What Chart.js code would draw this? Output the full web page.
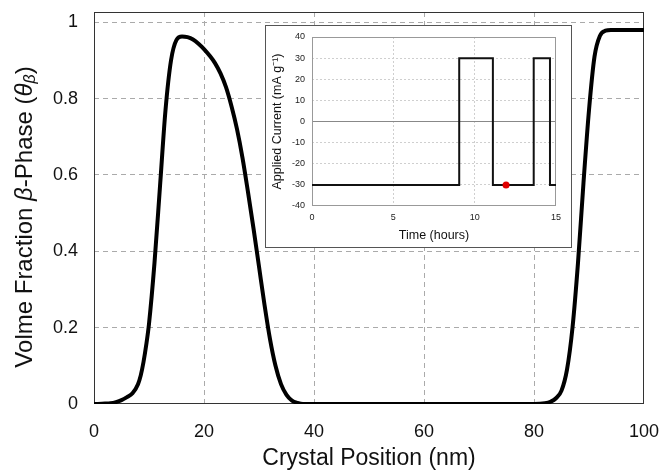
<!DOCTYPE html>
<html>
<head>
<meta charset="utf-8">
<script src="https://cdn.jsdelivr.net/npm/chart.js@4/dist/chart.umd.min.js"></script>
<style>
    body { margin: 0; background: #fff; }
    #wrap { position: relative; width: 661px; height: 472px; }
    #main { position: absolute; left: 0; top: 0; }
    #insetBox { position: absolute; left: 265px; top: 25px; width: 305px; height: 221px; border: 1px solid #555; background: #fff; }
</style>
</head>
<body>
<div id="wrap">
    <canvas id="main" width="661" height="472"></canvas>
    <div id="insetBox"><canvas id="inset" width="305" height="221"></canvas></div>
</div>
<script>
// Main curve: volume fraction of beta phase along the crystal
const positions = [0, 2, 3, 4, 5, 6, 7, 8, 8.5, 9, 9.5, 10, 11, 12, 13, 14, 15, 16, 17, 18, 19, 20, 21, 22, 23, 24, 25, 26, 27, 28, 29, 30, 31, 32, 33, 34, 35, 36, 37, 38, 40, 50, 60, 70, 80, 82, 83, 84, 85, 86, 87, 88, 89, 90, 91, 92, 93, 94, 100];
const fractions = [0, 0.001, 0.002, 0.005, 0.01, 0.018, 0.028, 0.052, 0.075, 0.11, 0.155, 0.21, 0.37, 0.57, 0.77, 0.9, 0.954, 0.963, 0.961, 0.955, 0.944, 0.93, 0.913, 0.893, 0.866, 0.83, 0.78, 0.72, 0.645, 0.555, 0.46, 0.36, 0.26, 0.17, 0.1, 0.052, 0.024, 0.009, 0.003, 0, 0, 0, 0, 0, 0, 0.002, 0.006, 0.015, 0.035, 0.09, 0.2, 0.37, 0.58, 0.77, 0.91, 0.965, 0.978, 0.98, 0.98];
const xTicks = [0, 20, 40, 60, 80, 100];
const yTicks = [0, 0.2, 0.4, 0.6, 0.8, 1];

// Inset: applied current steps
const times = [0, 9.05, 11.12, 13.63, 14.63, 15];
const currents = [-30, 30, -30, 30, -30, -30];
const markerTime = [11.93];
const markerCurrent = [-30];
const insetXTicks = [0, 5, 10, 15];
const insetYTicks = [-40, -30, -20, -10, 0, 10, 20, 30, 40];

const FONT = '"Liberation Sans", Arial, sans-serif';

// frame around the plot area
const frame = {
    id: 'frame',
    beforeDatasetsDraw(chart, args, opts) {
        const a = chart.chartArea, ctx = chart.ctx;
        ctx.save();
        ctx.strokeStyle = opts.color;
        ctx.lineWidth = 1;
        ctx.strokeRect(Math.round(a.left) + 0.5, Math.round(a.top) + 0.5, Math.round(a.right - a.left) - 1, Math.round(a.bottom - a.top) - 1);
        ctx.restore();
    }
};

// rotated y title with italic / subscript parts
const richYTitle = {
    id: 'richYTitle',
    afterDraw(chart) {
        const ctx = chart.ctx;
        const runs = [
            { t: 'Volme Fraction ', f: '24px ' + FONT, dy: 0 },
            { t: 'β', f: 'italic 24px ' + FONT, dy: 0 },
            { t: '-Phase (', f: '24px ' + FONT, dy: 0 },
            { t: 'θ', f: 'italic 24px ' + FONT, dy: 0 },
            { t: 'β', f: 'italic 16px ' + FONT, dy: 6 },
            { t: ')', f: '24px ' + FONT, dy: 0 }
        ];
        ctx.save();
        let total = 0;
        runs.forEach(r => { ctx.font = r.f; r.w = ctx.measureText(r.t).width; total += r.w; });
        ctx.translate(25, 217);
        ctx.rotate(-Math.PI / 2);
        ctx.fillStyle = '#111';
        ctx.textBaseline = 'middle';
        let x = -total / 2;
        runs.forEach(r => { ctx.font = r.f; ctx.fillText(r.t, x, r.dy); x += r.w; });
        ctx.restore();
    }
};

const fixTicks = list => scale => { scale.ticks = list.map(v => ({ value: v })); };
// fixed scale sizes, no label overflow padding
const fitX = h => s => { s.height = h; s.paddingLeft = 0; s.paddingRight = 0; };
const fitY = w => s => { s.width = w; s.paddingTop = 0; s.paddingBottom = 0; };

new Chart(document.getElementById('main'), {
    type: 'line',
    data: {
        datasets: [{
            data: positions.map((p, i) => ({ x: p, y: fractions[i] })),
            borderColor: '#000',
            borderWidth: 4,
            pointRadius: 0,
            cubicInterpolationMode: 'monotone',
            fill: false
        }]
    },
    options: {
        responsive: false,
        animation: false,
        layout: { padding: { top: 12, right: 17, left: 0, bottom: 0 } },
        plugins: { legend: { display: false }, tooltip: { enabled: false }, frame: { color: '#333' } },
        scales: {
            x: {
                type: 'linear', min: 0, max: 100,
                afterBuildTicks: fixTicks(xTicks),
                afterFit: fitX(68),
                grid: { color: c => (c.tick && (c.tick.value === 0 || c.tick.value === 100)) ? 'rgba(0,0,0,0)' : '#aaa', drawTicks: false, lineWidth: 1 },
                border: { display: false, dash: [5, 4] },
                ticks: { color: '#111', font: { family: FONT, size: 18 }, padding: 17, maxRotation: 0 },
                title: { display: true, text: 'Crystal Position (nm)', color: '#111', font: { family: FONT, size: 23 }, padding: { top: 0, bottom: 0 } }
            },
            y: {
                type: 'linear', min: 0, max: 1.027,
                afterBuildTicks: fixTicks(yTicks),
                afterFit: fitY(94),
                grid: { color: c => (c.tick && c.tick.value === 0) ? 'rgba(0,0,0,0)' : '#aaa', drawTicks: false, lineWidth: 1 },
                border: { display: false, dash: [5, 4] },
                ticks: { color: '#111', font: { family: FONT, size: 18 }, padding: 16, callback: v => String(Math.round(v * 10) / 10) }
            }
        }
    },
    plugins: [frame, richYTitle]
});

new Chart(document.getElementById('inset'), {
    type: 'line',
    data: {
        datasets: [{
            data: markerTime.map((t, i) => ({ x: t, y: markerCurrent[i] })),
            showLine: false,
            pointRadius: 3.5,
            pointBackgroundColor: '#e00000',
            pointBorderWidth: 0,
            order: 0
        }, {
            data: times.map((t, i) => ({ x: t, y: currents[i] })),
            borderColor: '#111',
            borderWidth: 2,
            pointRadius: 0,
            stepped: true,
            fill: false,
            order: 1
        }]
    },
    options: {
        responsive: false,
        animation: false,
        layout: { padding: { top: 11, right: 15, left: 0, bottom: 0 } },
        plugins: { legend: { display: false }, tooltip: { enabled: false }, frame: { color: '#999' } },
        scales: {
            x: {
                type: 'linear', min: 0, max: 15,
                afterBuildTicks: fixTicks(insetXTicks),
                afterFit: fitX(41),
                grid: { color: c => (c.tick && (c.tick.value === 0 || c.tick.value === 15)) ? 'rgba(0,0,0,0)' : '#cfcfcf', drawTicks: false },
                border: { display: false, dash: [2, 2] },
                ticks: { color: '#222', font: { family: FONT, size: 9 }, padding: 6, maxRotation: 0 },
                title: { display: true, text: 'Time (hours)', color: '#111', font: { family: FONT, size: 12.5 }, padding: { top: 0, bottom: 4 } }
            },
            y: {
                type: 'linear', min: -40, max: 40,
                afterBuildTicks: fixTicks(insetYTicks),
                afterFit: fitY(46),
                grid: {
                    color: c => {
                        if (!c.tick) return '#cfcfcf';
                        if (c.tick.value === -40 || c.tick.value === 40) return 'rgba(0,0,0,0)';
                        return c.tick.value === 0 ? '#888' : '#cfcfcf';
                    },
                    drawTicks: false
                },
                border: { display: false, dash: c => (c.tick && c.tick.value === 0) ? [] : [2, 2] },
                ticks: { color: '#222', font: { family: FONT, size: 9 }, padding: 7 },
                title: { display: true, text: 'Applied Current (mA g⁻¹)', color: '#111', font: { family: FONT, size: 12.5 }, padding: { top: 4, bottom: 0 } }
            }
        }
    },
    plugins: [frame]
});
</script>
</body>
</html>
